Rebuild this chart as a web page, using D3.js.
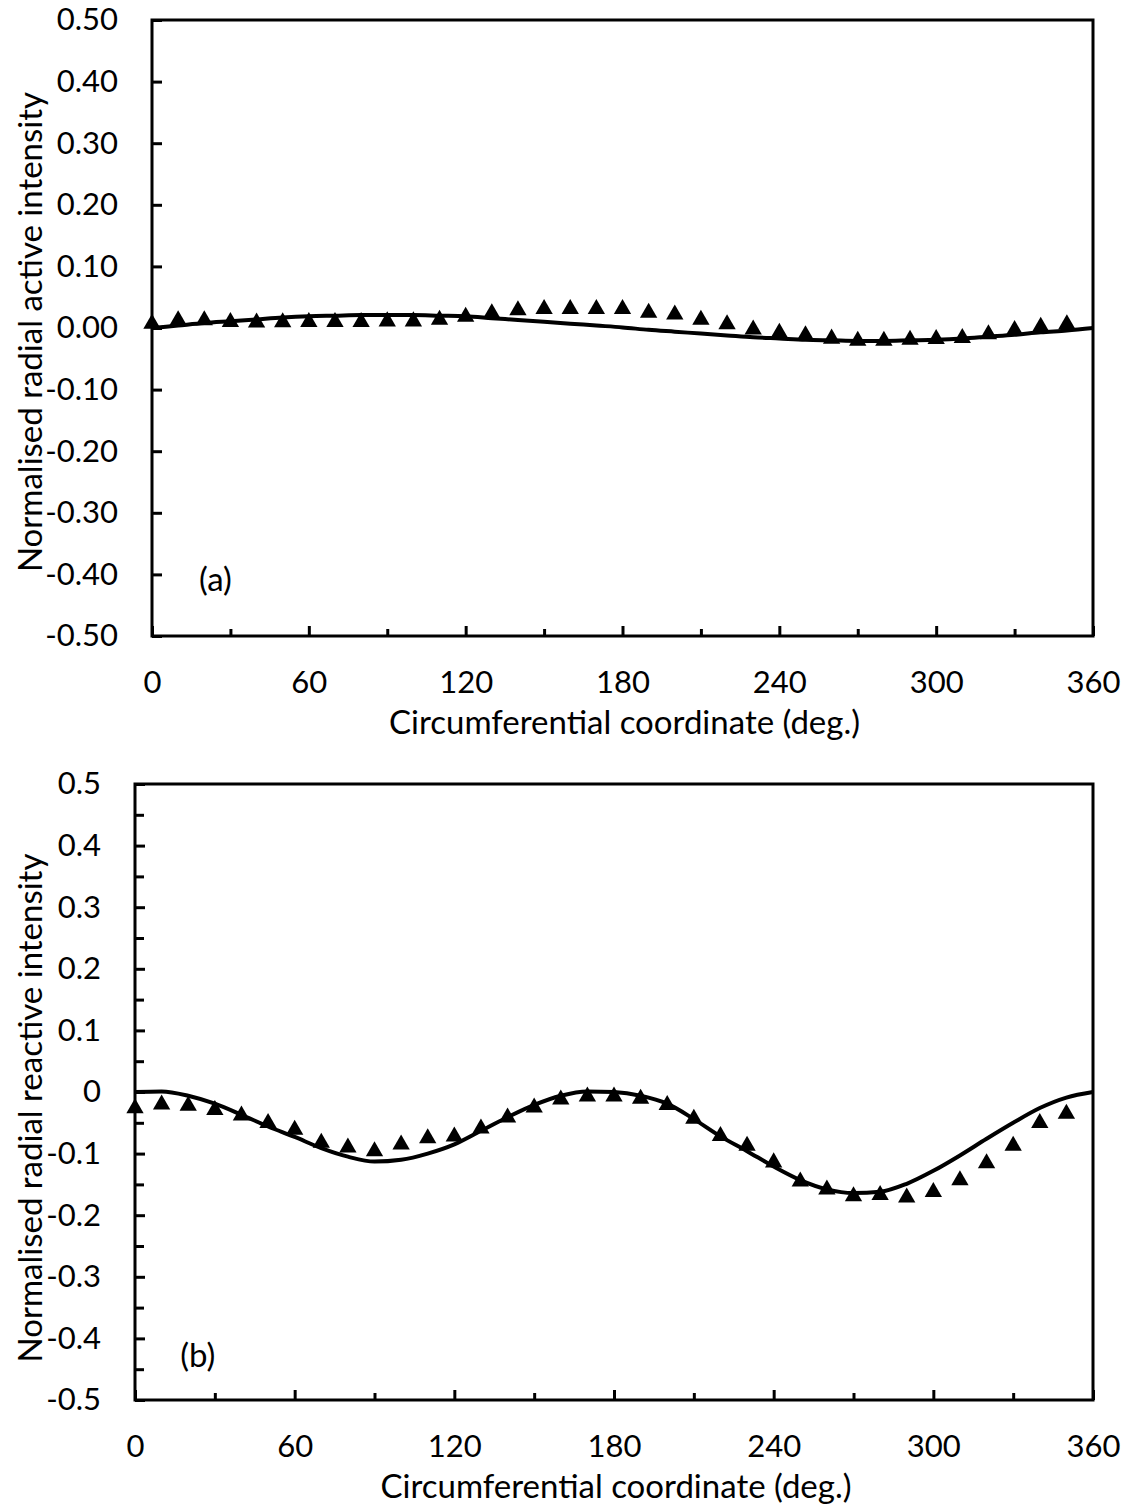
<!DOCTYPE html>
<html><head><meta charset="utf-8">
<script src="https://cdn.jsdelivr.net/npm/d3@7"></script>
<style>body{margin:0;background:#fff}svg{display:block}text{font-family:Lato,"Open Sans",sans-serif;fill:#000}</style>
</head><body>
<svg id="c" width="1131" height="1505"></svg>
<script>
// Circumferential coordinate (deg.)
const markerAngles = d3.range(0, 360, 10);
const lineAngles = d3.range(0, 361, 10);
const xTickLabels = [0, 60, 120, 180, 240, 300, 360];

// (a) Normalised radial active intensity
const activeMeasured = [0.010,0.016,0.016,0.013,0.012,0.0125,0.013,0.013,0.013,0.014,0.014,0.0165,
  0.0215,0.027,0.032,0.034,0.034,0.034,0.034,0.028,0.025,0.0165,0.0095,0.001,-0.0046,-0.0087,
  -0.014,-0.0176,-0.0176,-0.016,-0.0146,-0.013,-0.0068,0.0,0.0054,0.0095];
const activeModel = [0,0.004,0.008,0.011,0.014,0.017,0.019,0.020,0.021,0.021,0.021,0.020,0.019,0.016,
  0.013,0.010,0.007,0.004,0.001,-0.003,-0.006,-0.009,-0.012,-0.015,-0.017,-0.019,-0.020,-0.021,
  -0.021,-0.020,-0.019,-0.017,-0.014,-0.011,-0.007,-0.004,0];
const activeYTicks = [0.5,0.4,0.3,0.2,0.1,0,-0.1,-0.2,-0.3,-0.4,-0.5];

// (b) Normalised radial reactive intensity
const reactiveMeasured = [-0.023,-0.017,-0.019,-0.026,-0.035,-0.047,-0.058,-0.079,-0.087,-0.093,-0.082,-0.072,
  -0.069,-0.056,-0.038,-0.022,-0.009,-0.004,-0.004,-0.0076,-0.018,-0.040,-0.068,-0.084,-0.111,-0.142,
  -0.155,-0.166,-0.164,-0.168,-0.159,-0.140,-0.1125,-0.084,-0.047,-0.032];
const reactiveModel = [0,0.001,-0.006,-0.019,-0.037,-0.056,-0.073,-0.091,-0.105,-0.113,-0.110,-0.100,-0.085,
  -0.063,-0.041,-0.021,-0.006,0.001,0.0,-0.006,-0.019,-0.044,-0.072,-0.096,-0.121,-0.143,-0.158,-0.164,
  -0.162,-0.149,-0.128,-0.103,-0.076,-0.050,-0.026,-0.009,0];
const reactiveYTicks = [0.5,0.4,0.3,0.2,0.1,0,-0.1,-0.2,-0.3,-0.4,-0.5];

const svg = d3.select("#c");
const hyph = f => d => f(d).replace("\u2212", "-");

function panel(cfg) {
  const x = d3.scaleLinear().domain([0, 360]).range([cfg.left, 1093]);
  const y = d3.scaleLinear().domain([-0.5, 0.5]).range([cfg.bottom, cfg.top]);
  const g = svg.append("g");

  g.append("rect").attr("x", x(0)).attr("y", y(0.5)).attr("width", x(360) - x(0)).attr("height", y(-0.5) - y(0.5))
    .attr("fill", "none").attr("stroke", "#000").attr("stroke-width", 3);

  const xMinor = g.append("g").attr("transform", `translate(0,${y(-0.5)})`)
    .call(d3.axisBottom(x).tickValues(d3.range(30, 360, 60)).tickSize(-7).tickFormat(""));
  const xMajor = g.append("g").attr("transform", `translate(0,${y(-0.5)})`)
    .call(d3.axisBottom(x).tickValues(xTickLabels).tickSize(-10).tickFormat(d3.format("d")));
  [xMinor, xMajor].forEach(a => {
    a.select(".domain").remove();
    a.selectAll("line").attr("stroke", "#000").attr("stroke-width", 3);
    a.selectAll("text").attr("font-size", 31).attr("dy", "0.35em").attr("y", 46)
      .style("font-family", "Lato, 'Open Sans', sans-serif");
  });

  if (cfg.yMinor) {
    const yMin = g.append("g").attr("transform", `translate(${x(0)},0)`)
      .call(d3.axisLeft(y).tickValues(d3.range(-0.45, 0.5, 0.1)).tickSize(-9).tickFormat(""));
    yMin.select(".domain").remove();
    yMin.selectAll("line").attr("stroke", "#000").attr("stroke-width", 3);
  }
  const yAx = g.append("g").attr("transform", `translate(${x(0)},0)`)
    .call(d3.axisLeft(y).tickValues(cfg.yTicks).tickSize(-10).tickFormat(cfg.yFmt));
  yAx.select(".domain").remove();
  yAx.selectAll("line").attr("stroke", "#000").attr("stroke-width", 3);
  yAx.selectAll("text").attr("font-size", 31).attr("x", -cfg.ypad)
    .style("font-family", "Lato, 'Open Sans', sans-serif");

  const line = d3.line().x((d, i) => x(lineAngles[i])).y(d => y(d)).curve(d3.curveMonotoneX);
  g.append("path").datum(cfg.model).attr("d", line).attr("fill", "none").attr("stroke", "#000").attr("stroke-width", 4);

  const tri = d3.symbol().type(d3.symbolTriangle).size(130);
  g.selectAll("path.m").data(cfg.measured).join("path").attr("class", "m")
    .attr("d", tri).attr("transform", (d, i) => `translate(${x(markerAngles[i])},${y(d) + 2})`).attr("fill", "#000");

  g.append("text").attr("x", x(cfg.labelX)).attr("y", y(cfg.labelY)).attr("dy", "0.35em")
    .attr("font-size", 33).text(cfg.label);

  g.append("text").attr("x", (x(0) + x(360)) / 2 + 2).attr("y", y(-0.5) + 86).attr("dy", "0.35em")
    .attr("text-anchor", "middle").attr("font-size", 33).text("Circumferential coordinate (deg.)");
  g.append("text").attr("transform", `translate(30,${(y(0.5) + y(-0.5)) / 2 + cfg.titleShift}) rotate(-90)`).attr("dy", "0.35em")
    .attr("text-anchor", "middle").attr("font-size", 33).text(cfg.yTitle);
}

panel({left: 152, top: 20, bottom: 636, yTicks: activeYTicks, yFmt: hyph(d3.format(".2f")), ypad: 34, yMinor: false,
  model: activeModel, measured: activeMeasured, label: "(a)", labelX: 18, labelY: -0.409,
  yTitle: "Normalised radial active intensity", titleShift: 4});
panel({left: 135, top: 784, bottom: 1400, yTicks: reactiveYTicks, yFmt: hyph(d => d === 0 ? "0" : d3.format(".1f")(d)), ypad: 34, yMinor: true,
  model: reactiveModel, measured: reactiveMeasured, label: "(b)", labelX: 17, labelY: -0.427,
  yTitle: "Normalised radial reactive intensity", titleShift: 16});
</script>
</body></html>
